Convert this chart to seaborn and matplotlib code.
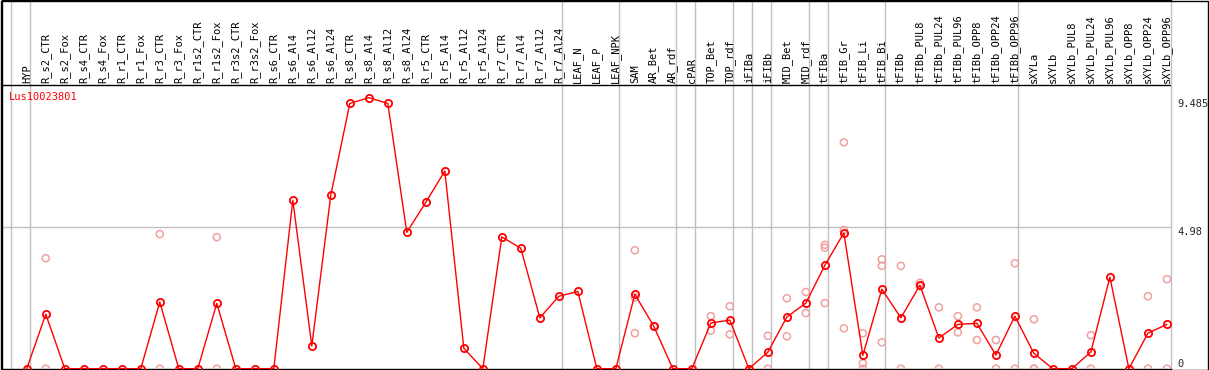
import numpy as np
import pandas as pd
import matplotlib
matplotlib.use('Agg')
import matplotlib.pyplot as plt
import seaborn as sns

# sample names, in display order
samples = ['HYP', 'R_s2_CTR', 'R_s2_Fox', 'R_s4_CTR', 'R_s4_Fox', 'R_r1_CTR', 'R_r1_Fox',
           'R_r3_CTR', 'R_r3_Fox', 'R_r1s2_CTR', 'R_r1s2_Fox', 'R_r3s2_CTR', 'R_r3s2_Fox',
           'R_s6_CTR', 'R_s6_Al4', 'R_s6_Al12', 'R_s6_Al24', 'R_s8_CTR', 'R_s8_Al4', 'R_s8_Al12',
           'R_s8_Al24', 'R_r5_CTR', 'R_r5_Al4', 'R_r5_Al12', 'R_r5_Al24', 'R_r7_CTR', 'R_r7_Al4',
           'R_r7_Al12', 'R_r7_Al24', 'LEAF_N', 'LEAF_P', 'LEAF_NPK', 'SAM', 'AR_Bet', 'AR_rdf',
           'cPAR', 'TOP_Bet', 'TOP_rdf', 'iFIBa', 'iFIBb', 'MID_Bet', 'MID_rdf', 'tFIBa', 'tFIB_Gr',
           'tFIB_Li', 'tFIB_Bi', 'tFIBb', 'tFIBb_PUL8', 'tFIBb_PUL24', 'tFIBb_PUL96', 'tFIBb_OPP8',
           'tFIBb_OPP24', 'tFIBb_OPP96', 'sXYLa', 'sXYLb', 'sXYLb_PUL8', 'sXYLb_PUL24',
           'sXYLb_PUL96', 'sXYLb_OPP8', 'sXYLb_OPP24', 'sXYLb_OPP96']

# mean expression per sample
means = [0, 1.92, 0, 0, 0, 0, 0, 2.35, 0, 0, 2.30, 0, 0, 0, 5.93, 0.80, 6.11, 9.34, 9.54, 9.34,
         4.80, 5.86, 6.96, 0.72, 0, 4.64, 4.24, 1.79, 2.55, 2.72, 0, 0, 2.62, 1.49, 0, 0, 1.61,
         1.71, 0, 0.58, 1.82, 2.31, 3.64, 4.78, 0.47, 2.80, 1.79, 2.94, 1.08, 1.56, 1.60, 0.48,
         1.85, 0.54, 0, 0, 0.59, 3.22, 0, 1.25, 1.56]

# replicate values (only where they show up)
replicates = [(), (3.89, 0), (), (), (), (), (), (4.74, 0), (), (), (4.63, 0), (), (), (), (),
              (), (), (), (), (), (), (), (), (), (), (), (), (), (), (), (), (),
              (4.17, 2.51, 1.25), (1.50, 1.48), (), (), (1.85, 1.34), (2.20, 1.21), (),
              (1.16, 0), (2.48, 1.14), (2.70, 1.96), (4.36, 4.26, 2.31), (7.97, 4.88, 1.42),
              (1.25, 0.19, 0), (3.85, 3.62, 0.93), (3.62, 0), (3.02, 2.90), (2.16, 0),
              (1.85, 1.28), (2.16, 1.01), (1.01, 0), (3.71, 0), (1.74, 0, 0), (), (),
              (1.18, 0), (), (), (2.55, 0), (3.15, 0)]

group_ends = [-1, 0, 28, 31, 34, 35, 37, 38, 39, 41, 42, 45, 52]
y_ticks = [9.485, 4.98, 0]
gene = 'Lus10023801'

df = pd.DataFrame({'pos': np.arange(len(samples)), 'sample': samples, 'mean': means})
rep_rows = [(i, v) for i, reps in enumerate(replicates) for v in reps]
reps_df = pd.DataFrame(rep_rows, columns=['pos', 'value'])

sns.set_style('white')
plt.rcParams['font.family'] = ['DejaVu Sans Mono', 'DejaVu Sans']

W, H = 1209, 370
fig = plt.figure(figsize=(W / 100, H / 100), dpi=100)
ax = fig.add_axes([1.5 / W, 1.3 / H, (1170.7 - 1.5) / W, (H - 1.3) / H])

grid = '#c0c0c0'
for g in group_ends:
    ax.axvline(g + 0.19, color=grid, lw=1, zorder=1)
ax.axhline(4.98, color=grid, lw=1, zorder=1)
ax.axhline(10.0, color='black', lw=1, zorder=2)

sns.scatterplot(data=reps_df, x='pos', y='value', ax=ax, marker='o', s=26,
                fc='none', ec='#f0a0a0', linewidth=1.1, zorder=3, legend=False)
sns.lineplot(data=df, x='pos', y='mean', ax=ax, color='red', lw=1, marker='o',
             ms=5.2, mfc='none', mec='red', mew=1.3, zorder=4, legend=False)

for i, s in enumerate(samples):
    ax.text(i, 10.07, s, rotation=90, ha='center', va='bottom', fontsize=7.5, color='black')

ax.text(0.0067, 9.56, gene, transform=ax.get_yaxis_transform(), color='red',
        fontsize=7.5, va='center', ha='left')

for v in y_ticks:
    ax.text(1.006, v, f'{v:g}', transform=ax.get_yaxis_transform(), fontsize=7.5,
            va='bottom' if v == 0 else 'top', ha='left', clip_on=False)

ax.set_xlim(-1.33, 60.2)
ax.set_ylim(0, 12.98)
ax.set_xticks([])
ax.set_yticks([])
ax.set_xlabel('')
ax.set_ylabel('')
for side in ['left', 'top', 'bottom']:
    ax.spines[side].set_color('black')
    ax.spines[side].set_linewidth(1)
ax.spines['right'].set_color(grid)
ax.spines['right'].set_linewidth(1)

# outer frame
fig.patches.append(plt.Rectangle((0.5 / W, 0.5 / H), (W - 1.5) / W, (H - 1) / H,
                                 transform=fig.transFigure, fill=False, ec='black', lw=1))

fig.savefig('out.png', dpi=100)
